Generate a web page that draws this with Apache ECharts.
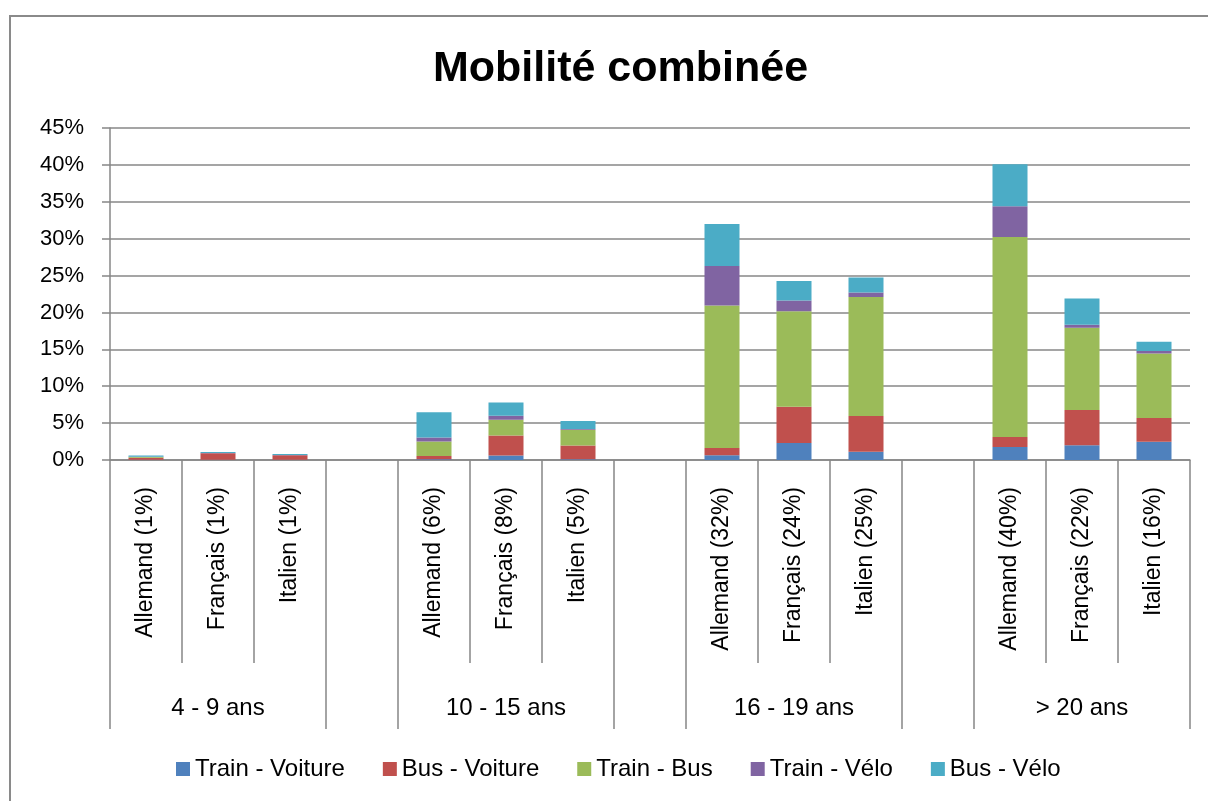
<!DOCTYPE html>
<html>
<head>
<meta charset="utf-8">
<title>Mobilité combinée</title>
<script src="https://cdn.jsdelivr.net/npm/echarts@6/dist/echarts.min.js"></script>
<style>
  html, body { margin: 0; padding: 0; overflow: hidden; background: #fff; }
  #frame { position: absolute; left: 9px; top: 15px; width: 1300px; height: 900px; border: 2px solid #8a8a8a; }
  #main { position: absolute; left: 0; top: 0; width: 1208px; height: 801px; }
</style>
</head>
<body>
<div id="frame"></div>
<div id="main"></div>
<script>
// catégories (les '' sont les emplacements vides entre les groupes)
var categories = [
  'Allemand (1%)', 'Français (1%)', 'Italien (1%)', '',
  'Allemand (6%)', 'Français (8%)', 'Italien (5%)', '',
  'Allemand (32%)', 'Français (24%)', 'Italien (25%)', '',
  'Allemand (40%)', 'Français (22%)', 'Italien (16%)'
];
// niveau du haut : classes d'âge
var groupes = [
  '', '4 - 9 ans', '', '',
  '', '10 - 15 ans', '', '',
  '', '16 - 19 ans', '', '',
  '', '> 20 ans', ''
];
var groupBounds = [0, 3, 4, 7, 8, 11, 12];

var seriesNames = ['Train - Voiture', 'Bus - Voiture', 'Train - Bus', 'Train - Vélo', 'Bus - Vélo'];
var colors = ['#4F81BD', '#C0504D', '#9BBB59', '#8064A2', '#4BACC6'];

// valeurs en %
var trainVoiture = [0.05, 0.05, 0.03, null, 0.1, 0.6, 0.1, null, 0.63, 2.3, 1.13, null, 1.76, 1.99, 2.48];
var busVoiture   = [0.25, 0.85, 0.6, null, 0.45, 2.73, 1.85, null, 1.0, 4.92, 4.83, null, 1.35, 4.78, 3.21];
var trainBus     = [0.1, 0.02, 0.02, null, 1.95, 2.13, 2.14, null, 19.3, 12.95, 16.15, null, 27.12, 11.15, 8.75];
var trainVelo    = [0.05, 0.02, 0.02, null, 0.55, 0.55, 0.1, null, 5.37, 1.44, 0.59, null, 4.16, 0.4, 0.32];
var busVelo      = [0.15, 0.15, 0.13, null, 3.41, 1.77, 1.1, null, 5.7, 2.66, 2.03, null, 5.68, 3.57, 1.26];

var values = [trainVoiture, busVoiture, trainBus, trainVelo, busVelo];

var font = 'Liberation Sans';
var grey = '#878787';

var chart = echarts.init(document.getElementById('main'));

var series = seriesNames.map(function (name, i) {
  return {
    name: name,
    type: 'bar',
    stack: 'total',
    barWidth: 35,
    xAxisIndex: 0,
    itemStyle: { color: colors[i] },
    data: values[i]
  };
});

var option = {
  animation: false,
  title: {
    text: 'Mobilité combinée',
    left: 428,
    top: 43,
    textStyle: { fontFamily: font, fontSize: 43, fontWeight: 'bold', color: '#000' }
  },
  legend: {
    data: seriesNames,
    bottom: 15,
    left: 171,
    itemWidth: 14,
    itemHeight: 14,
    itemGap: 38,
    icon: 'rect',
    textStyle: { fontFamily: font, fontSize: 24, color: '#000' }
  },
  grid: { left: 110, right: 18, top: 128, bottom: 341, containLabel: false },
  xAxis: [
    {
      type: 'category',
      data: categories,
      position: 'bottom',
      axisLine: { lineStyle: { color: grey, width: 1.5 } },
      axisTick: { show: true, interval: 0, length: 203, lineStyle: { color: grey, width: 1.5 } },
      axisLabel: {
        interval: 0,
        rotate: 90,
        margin: 27,
        fontFamily: font,
        fontSize: 23,
        color: '#000'
      }
    },
    {
      type: 'category',
      data: groupes,
      position: 'bottom',
      offset: 0,
      axisLine: { show: false },
      axisTick: {
        show: true,
        length: 269,
        interval: function (index) { return groupBounds.indexOf(index) >= 0; },
        lineStyle: { color: grey, width: 1.5 }
      },
      axisLabel: {
        interval: function (index) { return index % 4 === 1; },
        margin: 236,
        fontFamily: font,
        fontSize: 24,
        color: '#000'
      }
    }
  ],
  yAxis: {
    type: 'value',
    min: 0,
    max: 45,
    interval: 5,
    axisLine: { show: true, lineStyle: { color: grey, width: 1.5 } },
    axisTick: { show: true, length: 8, lineStyle: { color: grey, width: 1.5 } },
    axisLabel: { formatter: '{value}%', margin: 26, fontFamily: font, fontSize: 22, color: '#000' },
    splitLine: { lineStyle: { color: grey, width: 1.6 } }
  },
  series: series
};

chart.setOption(option);
</script>
</body>
</html>
